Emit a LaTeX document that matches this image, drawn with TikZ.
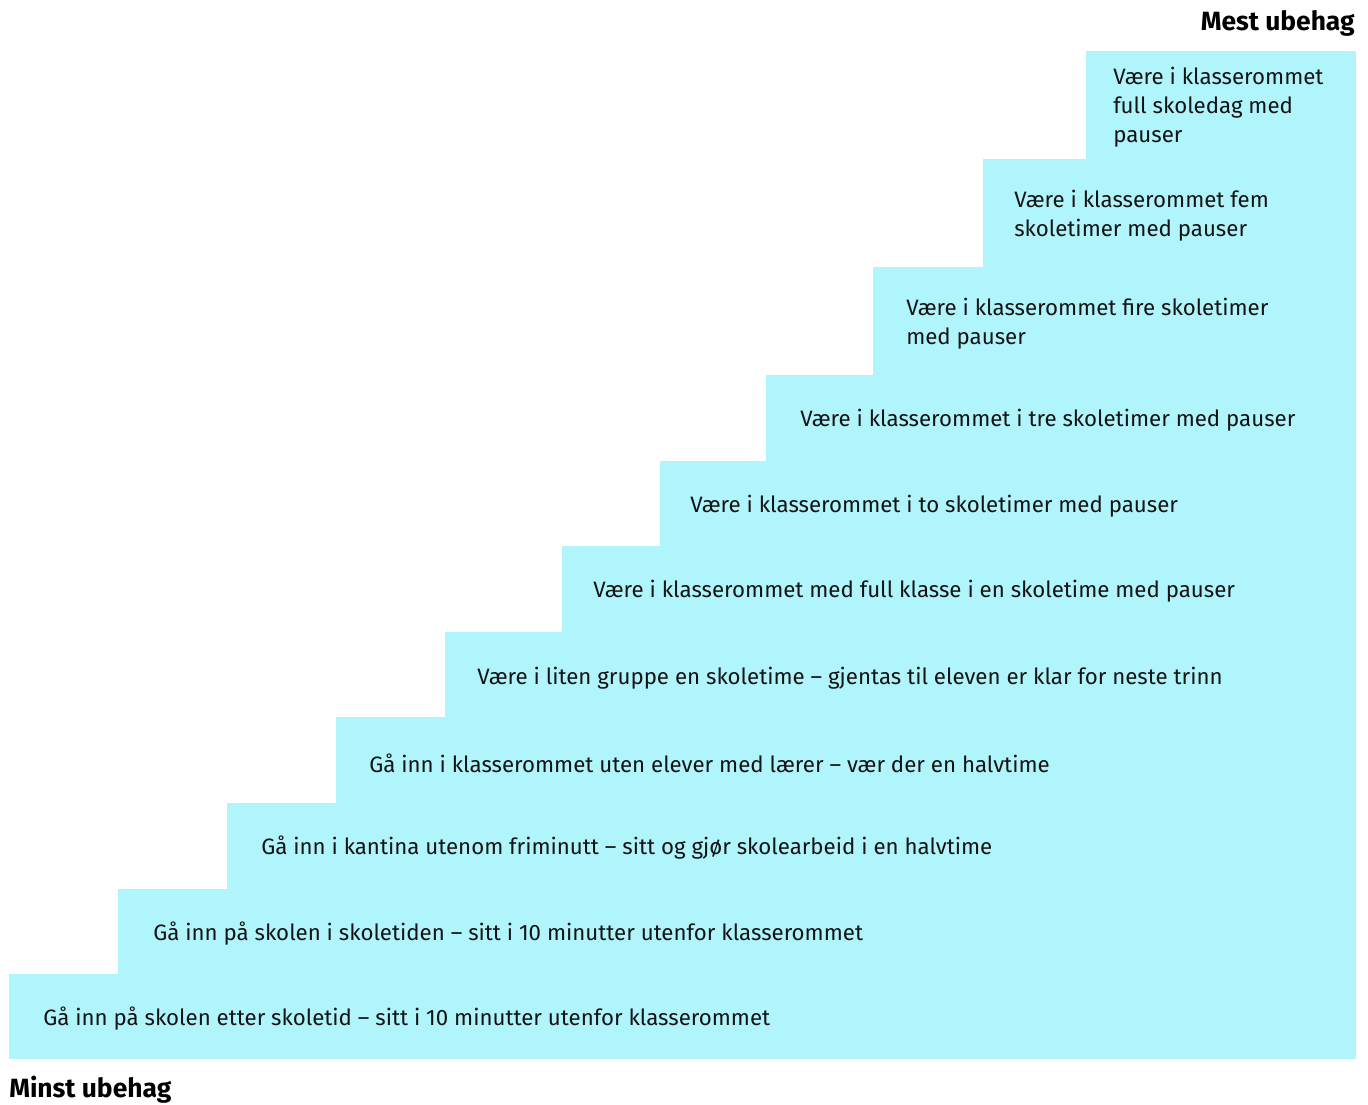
\documentclass[tikz,border=0pt]{standalone}
\usepackage{fontspec}
\setmainfont{Fira Sans}
\definecolor{stepfill}{RGB}{176,244,252}
\definecolor{txt}{RGB}{20,20,20}
\begin{document}
\begin{tikzpicture}[x=0.75pt,y=-0.75pt,
  stepbox/.style={fill=stepfill,draw=none},
  steptext/.style={anchor=west,inner sep=0pt,align=left,text=txt,font=\fontsize{16.7pt}{21.75pt}\selectfont},
  title/.style={inner sep=0pt,text=black,font=\fontsize{19.8pt}{22pt}\selectfont\bfseries}]
\useasboundingbox (0,0) rectangle (1368,1104);
% steps
\fill[stepfill] (9,974) rectangle (1356,1059);
\fill[stepfill] (118,889) rectangle (1356,974);
\fill[stepfill] (227,803) rectangle (1356,889);
\fill[stepfill] (336,717) rectangle (1356,803);
\fill[stepfill] (445,632) rectangle (1356,717);
\fill[stepfill] (562,546) rectangle (1356,632);
\fill[stepfill] (660,461) rectangle (1356,546);
\fill[stepfill] (766,375) rectangle (1356,461);
\fill[stepfill] (873,267) rectangle (1356,375);
\fill[stepfill] (983,159) rectangle (1356,267);
\fill[stepfill] (1086,51) rectangle (1356,159);
% texts
\node[steptext] (t1) at (43,1019) {Gå inn på skolen etter skoletid – sitt i 10 minutter utenfor klasserommet};
\node[steptext] (t2) at (153,934) {Gå inn på skolen i skoletiden – sitt i 10 minutter utenfor klasserommet};
\node[steptext] (t3) at (261,848) {Gå inn i kantina utenom friminutt – sitt og gjør skolearbeid i en halvtime};
\node[steptext] (t4) at (369,763) {Gå inn i klasserommet uten elever med lærer – vær der en halvtime};
\node[steptext] (t5) at (477,678) {Være i liten gruppe en skoletime – gjentas til eleven er klar for neste trinn};
\node[steptext] (t6) at (593,591) {Være i klasserommet med full klasse i en skoletime med pauser};
\node[steptext] (t7) at (690,506) {Være i klasserommet i to skoletimer med pauser};
\node[steptext] (t8) at (800,420) {Være i klasserommet i tre skoletimer med pauser};
\node[steptext] (t9) at (906,323.5) {Være i klasserommet fire skoletimer\\med pauser};
\node[steptext] (t10) at (1014,215.5) {Være i klasserommet fem\\skoletimer med pauser};
\node[steptext] (t11) at (1113,107) {Være i klasserommet\\full skoledag med\\pauser};
% titles
\node[title,anchor=east] (mest) at (1355,23) {Mest ubehag};
\node[title,anchor=west] (minst) at (9,1090) {Minst ubehag};
\end{tikzpicture}
\end{document}
